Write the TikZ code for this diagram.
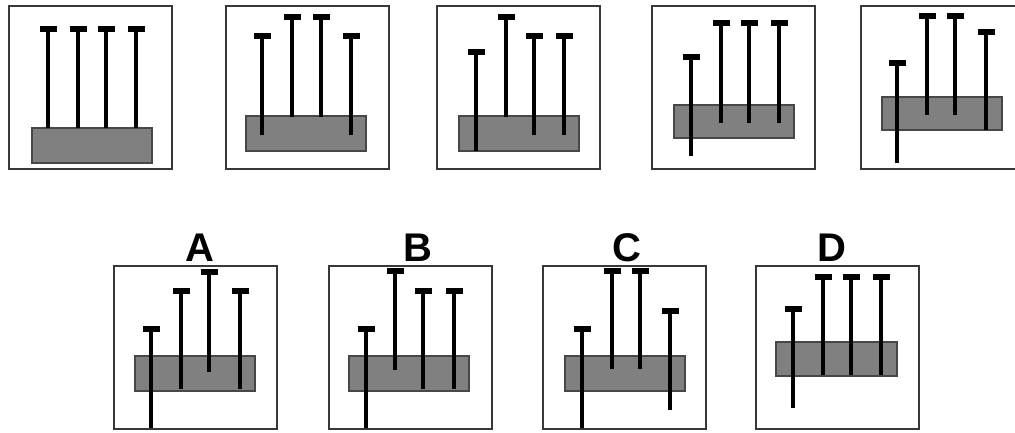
\documentclass[tikz,border=0pt]{standalone}
\usepackage{fontspec}
\setmainfont{Liberation Sans}
\begin{document}
\begin{tikzpicture}[x=1pt,y=-1pt,
  frame/.style={draw=black!78,line width=1.8pt},
  slab/.style={fill=black!50,draw=black!72,line width=1.4pt},
  stick/.style={draw=black,line width=3.6pt},
  tbar/.style={fill=black},
  lbl/.style={font=\fontsize{40}{40}\selectfont\bfseries,inner sep=0pt}]
\useasboundingbox (0,0) rectangle (1015,432);
\fill[white] (0,0) rectangle (1015,432);
\newcommand\pz[7]{%
  \begin{scope}[shift={(#1,#2)}]
    \draw[frame] (0,0) rectangle (163,163);
    \draw[slab] (#3,#5) rectangle (#4,#6);
    \foreach \sx/\st/\sb in {#7} {
      \draw[stick] (\sx,\st) -- (\sx,\sb);
      \fill[tbar] (\sx-8.5,\st-3) rectangle (\sx+8.5,\st+3);
    }
  \end{scope}}
% top row
\pz{9}{6}{23}{143}{122}{157}{39/23/122,69/23/122,97/23/122,127/23/122}
\pz{226}{6}{20}{140}{110}{145}{36/30/129,66/11/111,95/11/111,125/30/129}
\pz{437}{6}{22}{142}{110}{145}{39/46/145,69/11/111,97/30/129,127/30/129}
\pz{652}{6}{22}{142}{99}{132}{39/51/150,69/17/117,97/17/117,127/17/117}
\pz{861}{6}{21}{141}{91}{124}{36/57/157,66/10/109,94/10/109,125/26/124}
% bottom row
\pz{114}{266}{21}{141}{90}{125}{37/63/162,67/25/123,95/6/106,126/25/123}
\pz{329}{266}{20}{140}{90}{125}{37/63/162,66/5/104,94/25/123,125/25/123}
\pz{543}{266}{22}{142}{90}{125}{39/63/162,69/5/103,97/5/103,127/45/144}
\pz{756}{266}{20}{141}{76}{110}{37/43/142,67/11/109,95/11/109,125/11/109}
% labels
\node[lbl] (la) at (200,248) {A};
\node[lbl] (lb) at (418,248) {B};
\node[lbl] (lc) at (627,248) {C};
\node[lbl] (ld) at (832,248) {D};
\end{tikzpicture}
\end{document}
